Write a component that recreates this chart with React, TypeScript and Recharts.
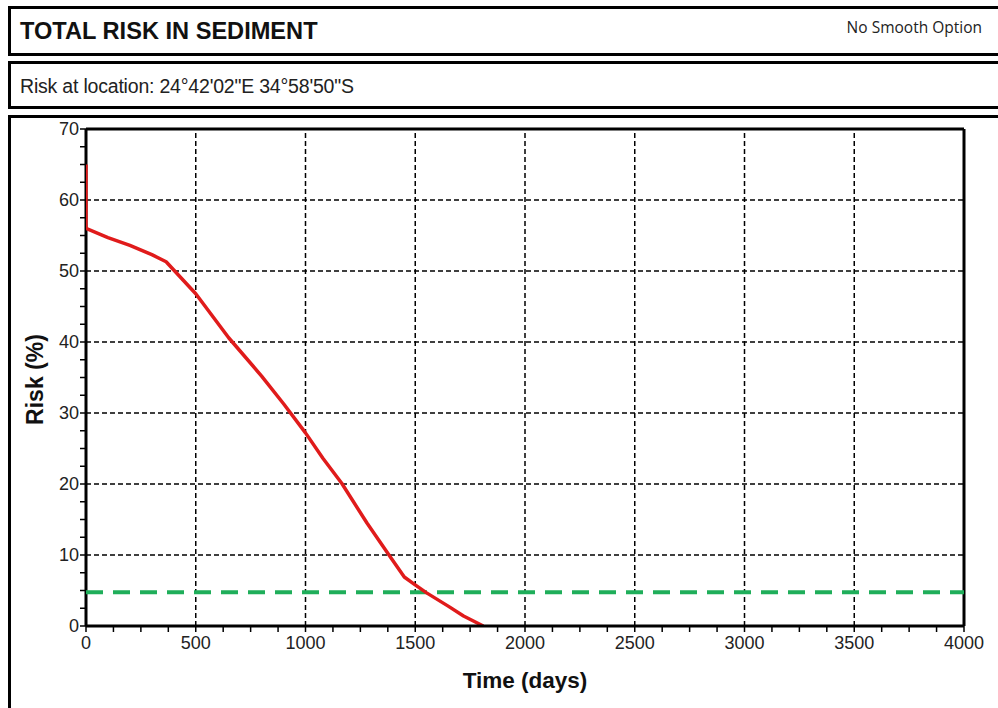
import { LineChart, Line, XAxis, YAxis, ReferenceLine, Label } from "recharts"

// red risk curve
const days = [0, 0, 100, 200, 300, 365, 500, 650, 800, 900, 1000, 1080, 1165, 1280, 1385, 1450, 1490, 1550, 1650, 1720, 1810]
const risk = [65, 56, 54.7, 53.6, 52.3, 51.3, 46.8, 40.6, 35.2, 31.3, 27.2, 23.6, 20.1, 14.5, 9.8, 6.9, 6.0, 4.7, 2.8, 1.4, 0]

// green acceptable-risk threshold
const thresholdDays = [0, 4000]
const thresholdRisk = [4.75, 4.75]

const xMajor = [0, 500, 1000, 1500, 2000, 2500, 3000, 3500, 4000]
const yMajor = [0, 10, 20, 30, 40, 50, 60, 70]
const xTicks = Array.from({ length: 33 }, (_, i) => i * 125)
const yTicks = Array.from({ length: 29 }, (_, i) => i * 2.5)

const riskData = days.map((d, i) => ({ day: d, risk: risk[i] }))
const thresholdData = thresholdDays.map((d, i) => ({ day: d, limit: thresholdRisk[i] }))

const FONT = "'Liberation Sans', Arial, sans-serif"

function XTick(props: any) {
  const { x, y, payload } = props
  if (!xMajor.includes(payload.value)) return null
  return (
    <text x={x} y={y} dy="0.72em" textAnchor="middle" fontSize={18} fill="#222" fontFamily={FONT}>
      {payload.value}
    </text>
  )
}

function YTick(props: any) {
  const { x, y, payload } = props
  if (!yMajor.includes(payload.value)) return null
  return (
    <text x={x} y={y} dy="0.36em" textAnchor="end" fontSize={18} fill="#222" fontFamily={FONT}>
      {payload.value}
    </text>
  )
}

function YTitle(props: any) {
  const { viewBox } = props
  const cx = 35
  const cy = viewBox.y + viewBox.height / 2 + 2
  return (
    <text x={cx} y={cy} transform={`rotate(-90 ${cx} ${cy})`} textAnchor="middle" dominantBaseline="central"
      fontSize={23} fontWeight="bold" fill="#111" fontFamily={FONT}>
      Risk (%)
    </text>
  )
}

function XTitle(props: any) {
  const { viewBox } = props
  const cx = viewBox.x + viewBox.width / 2
  return (
    <text x={cx} y={680} textAnchor="middle" dominantBaseline="central"
      fontSize={22.5} fontWeight="bold" fill="#111" fontFamily={FONT}>
      Time (days)
    </text>
  )
}

const box = (top: number, height: number): React.CSSProperties => ({
  position: "absolute",
  left: 8,
  top,
  width: 1010,
  height,
  boxSizing: "border-box",
  border: "3px solid #000",
})

export default function App() {
  return (
    <div style={{ position: "absolute", left: 0, top: 0, width: 998, height: 708, overflow: "hidden", background: "#fff", fontFamily: FONT }}>
      <div style={box(6, 50)} />
      <div style={{ position: "absolute", left: 20, top: 18, fontSize: 23.6, fontWeight: "bold", color: "#111" }}>
        TOTAL RISK IN SEDIMENT
      </div>
      <div style={{ position: "absolute", right: 16, top: 16, fontSize: 15.5, color: "#222", fontFamily: "'Open Sans', sans-serif" }}>
        No Smooth Option
      </div>
      <div style={box(61, 48)} />
      <div style={{ position: "absolute", left: 20, top: 75, fontSize: 19.5, color: "#222", letterSpacing: -0.2 }}>
        Risk at location: 24°42'02"E 34°58'50"S
      </div>
      <div style={box(115, 700)} />

      <div style={{ position: "absolute", left: 0, top: 0 }}>
        <LineChart width={998} height={708} margin={{ top: 129, right: 34, bottom: 0, left: 0 }}>
          <XAxis
            type="number"
            dataKey="day"
            domain={[0, 4000]}
            ticks={xTicks}
            interval={0}
            tick={<XTick />}
            tickSize={6}
            tickMargin={4}
            tickLine={{ stroke: "#000", strokeWidth: 1.5 }}
            axisLine={false}
            height={82}
            allowDataOverflow
          >
            <Label content={<XTitle />} />
          </XAxis>
          <YAxis
            type="number"
            domain={[0, 70]}
            ticks={yTicks}
            interval={0}
            tick={<YTick />}
            tickSize={6}
            tickMargin={1}
            tickLine={{ stroke: "#000", strokeWidth: 1.5 }}
            axisLine={false}
            width={86}
            allowDataOverflow
          >
            <Label content={<YTitle />} />
          </YAxis>
          {xMajor.slice(1, -1).map((v) => (
            <ReferenceLine key={"x" + v} x={v} stroke="#000" strokeWidth={1.5} strokeDasharray="5 3" />
          ))}
          {yMajor.slice(1, -1).map((v) => (
            <ReferenceLine key={"y" + v} y={v} stroke="#000" strokeWidth={1.5} strokeDasharray="5 3" />
          ))}
          <ReferenceLine y={70} stroke="#000" strokeWidth={3} />
          <ReferenceLine x={4000} stroke="#000" strokeWidth={3} />
          <ReferenceLine x={0} stroke="#000" strokeWidth={3} />
          <Line data={thresholdData} dataKey="limit" type="linear" stroke="#1fae5a" strokeWidth={4}
            strokeDasharray="17 10" dot={false} activeDot={false} isAnimationActive={false} />
          <Line data={riskData} dataKey="risk" type="linear" stroke="#e01b1b" strokeWidth={3.5}
            strokeLinejoin="round" dot={false} activeDot={false} isAnimationActive={false} />
          <ReferenceLine y={0} stroke="#000" strokeWidth={3} />
        </LineChart>
      </div>
    </div>
  )
}
